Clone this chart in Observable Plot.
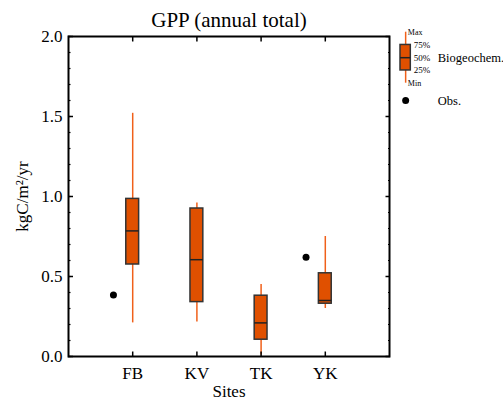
<!DOCTYPE html>
<html><head><meta charset="utf-8">
<script src="https://cdn.jsdelivr.net/npm/d3@7"></script>
<script src="https://cdn.jsdelivr.net/npm/@observablehq/plot@0.6"></script>
<style>
body{margin:0;background:#fff}
#wrap{position:relative;width:503px;height:401px}
#legend{position:absolute;left:390px;top:20px}
</style>
</head><body><div id="wrap"><div id="main"></div><div id="legend"></div></div>
<script>
// ---- data ----
const sites = ["FB", "KV", "TK", "YK"];
const whiskerMin = [0.21, 0.215, 0.01, 0.30];
const q1 = [0.575, 0.34, 0.105, 0.33];
const median = [0.785, 0.605, 0.21, 0.35];
const q3 = [0.985, 0.925, 0.38, 0.52];
const whiskerMax = [1.52, 0.96, 0.45, 0.75];
const obs = [0.385, null, null, 0.62];
const majorTicks = [0, 0.5, 1.0, 1.5, 2.0];
const minorTicks = d3.range(0, 21).map(i => i / 10);
const siteTicks = [1, 2, 3, 4];
const legendStats = ["Min", "25%", "50%", "75%", "Max"];
const legendSeries = ["Biogeochem.", "Obs."];

const boxFill = "#e05000";
const whiskerColor = "#f0601a";
const font = "Liberation Serif, Times New Roman, serif";

const rows = sites.map((s, i) => ({
  x: i + 1, site: s, min: whiskerMin[i], q1: q1[i], median: median[i],
  q3: q3[i], max: whiskerMax[i], obs: obs[i]
}));
const hw = 0.1;

const main = Plot.plot({
  width: 503, height: 401,
  marginLeft: 68, marginRight: 114, marginTop: 36, marginBottom: 45,
  style: {fontFamily: font, fontSize: "17px", color: "black", background: "white", overflow: "visible"},
  x: {domain: [0, 5]},
  y: {domain: [0, 2]},
  marks: [
    Plot.ruleX(rows, {x: "x", y1: "min", y2: "max", stroke: whiskerColor, strokeWidth: 1.5}),
    Plot.rect(rows, {x1: d => d.x - hw, x2: d => d.x + hw, y1: "q1", y2: "q3", fill: boxFill, stroke: "#333", strokeWidth: 1.5}),
    Plot.ruleY(rows, {y: "median", x1: d => d.x - hw, x2: d => d.x + hw, stroke: "#222", strokeWidth: 1.5}),
    Plot.dot(rows.filter(d => d.obs != null), {x: d => d.x - 0.3, y: "obs", r: 3.5, fill: "black", stroke: null}),
    Plot.axisY(majorTicks, {anchor: "left", tickSize: -5, tickPadding: 11, tickFormat: d3.format(".1f"), fontSize: 17, label: null, strokeWidth: 1.5}),
    Plot.axisY(minorTicks, {anchor: "left", tickSize: -2.5, tickFormat: () => "", label: null, strokeWidth: 1.2}),
    Plot.axisY(majorTicks, {anchor: "right", tickSize: -4.5, tickFormat: () => "", label: null, strokeWidth: 1.5}),
    Plot.axisY(minorTicks, {anchor: "right", tickSize: -2, tickFormat: () => "", label: null, strokeWidth: 1.2}),
    Plot.axisX(siteTicks, {anchor: "top", tickSize: -4.5, tickFormat: () => "", label: null, strokeWidth: 1.5}),
    Plot.axisX(siteTicks, {anchor: "bottom", tickSize: -4.5, tickPadding: 14.5, tickFormat: i => sites[i - 1], fontSize: 17, label: null, strokeWidth: 1.5}),
    Plot.frame({stroke: "black", strokeWidth: 2}),
    Plot.text(["GPP (annual total)"], {frameAnchor: "top", dy: -16, fontSize: 21, fill: "black", textAnchor: "middle", lineAnchor: "middle"}),
    Plot.text(["kgC/m²/yr"], {frameAnchor: "left", rotate: -90, dx: -46, fontSize: 17, fill: "black", textAnchor: "middle", lineAnchor: "middle"}),
    Plot.text(["Sites"], {frameAnchor: "bottom", dy: 35, fontSize: 17, fill: "black", textAnchor: "middle", lineAnchor: "middle"})
  ]
});
document.getElementById("main").appendChild(main);

// ---- legend ----
const statRows = legendStats.map((s, i) => ({label: s, v: i, end: i === 0 || i === 4}));
const legend = Plot.plot({
  width: 113, height: 90,
  marginTop: 11.7, marginBottom: 27.3, marginLeft: 0, marginRight: 0,
  style: {fontFamily: font, background: "transparent", overflow: "visible", color: "black"},
  x: {domain: [0, 1], range: [10, 20.3], axis: null},
  y: {domain: [0, 4], axis: null},
  marks: [
    Plot.ruleX([0.5], {x: d => d, y1: 0, y2: 4, stroke: whiskerColor, strokeWidth: 1.5}),
    Plot.rect([0], {x1: 0, x2: 1, y1: 1, y2: 3, fill: boxFill, stroke: "#333", strokeWidth: 1.5}),
    Plot.ruleY([2], {y: d => d, x1: 0, x2: 1, stroke: "#222", strokeWidth: 1.5}),
    Plot.text(statRows, {x: d => d.end ? 0.71 : 1.29, y: "v", text: "label", textAnchor: "start", fontSize: d => d.end ? 8 : 9, fill: "black"}),
    Plot.text([legendSeries[0]], {x: 3.62, y: 2, text: d => d, textAnchor: "start", fontSize: 12.5, fill: "black"}),
    Plot.dot([legendSeries[1]], {x: 0.5, y: -1.36, r: 3.5, fill: "black", stroke: null}),
    Plot.text([legendSeries[1]], {x: 3.62, y: -1.36, text: d => d, textAnchor: "start", fontSize: 12.5, fill: "black"})
  ]
});
document.getElementById("legend").appendChild(legend);
</script>
</body></html>
